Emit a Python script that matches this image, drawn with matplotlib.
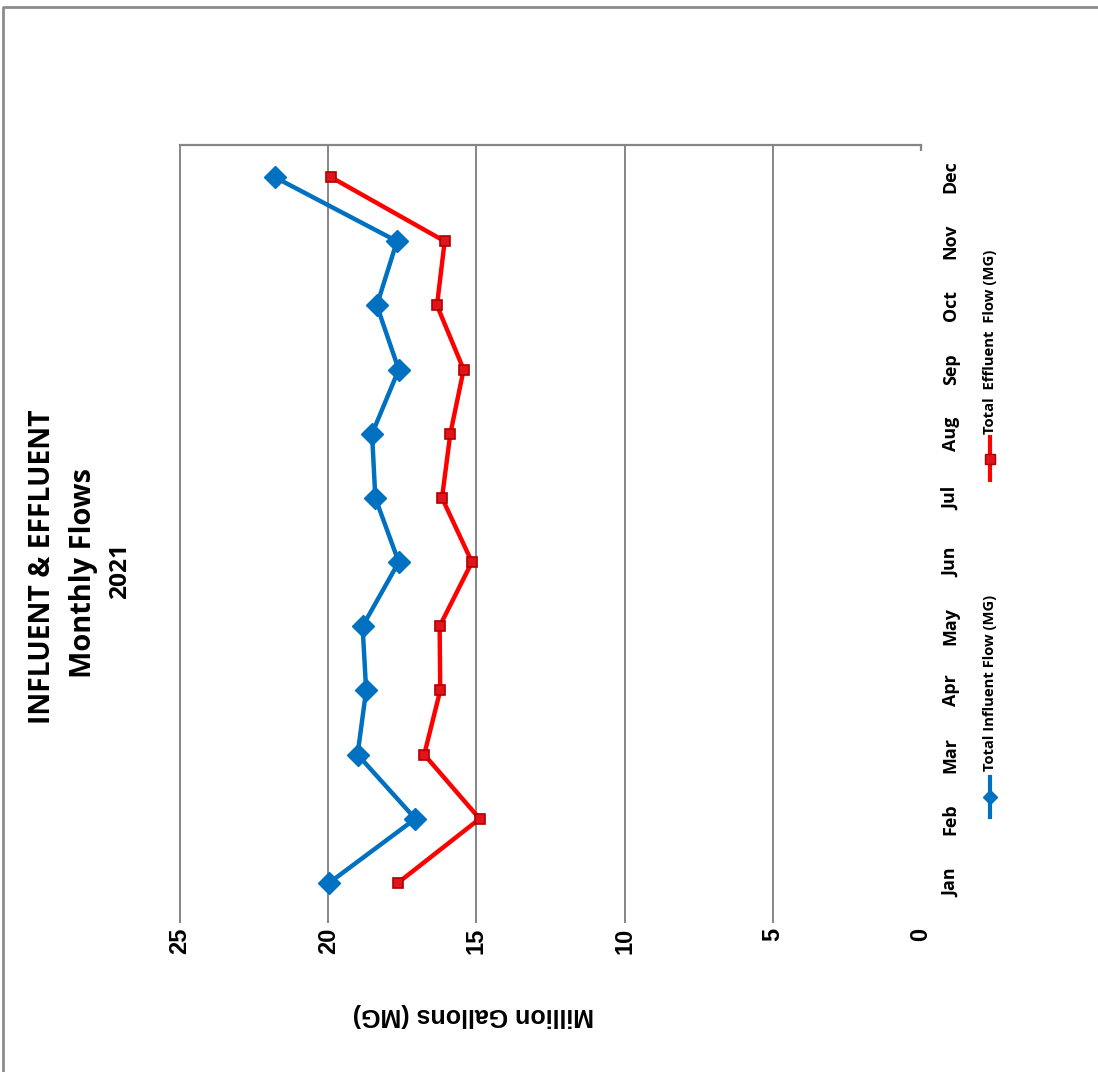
import matplotlib
matplotlib.use("Agg")
from matplotlib import pyplot as plt
from matplotlib.lines import Line2D
import numpy as np

# Data (million gallons per month)
months = ['Jan', 'Feb', 'Mar', 'Apr', 'May', 'Jun',
          'Jul', 'Aug', 'Sep', 'Oct', 'Nov', 'Dec']
influent = [19.97, 17.06, 19.01, 18.72, 18.84, 17.62,
            18.41, 18.52, 17.62, 18.36, 17.68, 21.81]
effluent = [17.65, 14.89, 16.76, 16.22, 16.24, 15.15,
            16.16, 15.88, 15.43, 16.33, 16.07, 19.91]
value_ticks = [0, 5, 10, 15, 20, 25]

blue = '#0070C0'
red = '#FF0000'
grey = '#868686'
bold_font = 'Open Sans'

W, H = 1098, 1072
fig = plt.figure(figsize=(W / 100, H / 100), dpi=100)

def fx(px):
    return px / W

def fy(py):
    return 1 - py / H

def fit_length(texts, target):
    # scale font so the (turned) text spans `target` pixels, like the original
    fig.canvas.draw()
    r = fig.canvas.get_renderer()
    bb = texts[0].get_window_extent(r)
    length = max(bb.width, bb.height)
    for t in texts:
        t.set_fontsize(t.get_fontsize() * target / length)

# The whole chart is turned a quarter turn: values run right-to-left, months bottom-to-top
ax = fig.add_axes([fx(180), fy(915), fx(921) - fx(180), fy(145) - fy(915)])
ypos = np.arange(len(months))

ax.plot(influent, ypos, color=blue, lw=3.2, marker='D', ms=11,
        mfc=blue, mec=blue, zorder=3)
ax.plot(effluent, ypos, color=red, lw=3.2, marker='s', ms=7,
        mfc='#E0141A', mec='#B00000', mew=1.2, zorder=3)

ax.set_xlim(25, 0)
ax.set_ylim(-0.5, len(months) - 0.5)

for s in ['left', 'right', 'bottom']:
    ax.spines[s].set_visible(False)
ax.spines['top'].set_color(grey)
ax.spines['top'].set_linewidth(1.6)

# vertical gridlines, running a bit past the bottom like tick marks
trans = ax.get_xaxis_transform()
ax.vlines([5, 10, 15, 20, 25], -0.01, 1, transform=trans, color=grey,
          lw=1.4, clip_on=False, zorder=1)
ax.vlines([0], 0.992, 1, transform=trans, color=grey, lw=1.6, clip_on=False)

ax.set_xticks(value_ticks)
ax.set_xticklabels([str(v) for v in value_ticks], rotation=90,
                   family='Liberation Sans', weight='bold', fontsize=17)
ax.tick_params(axis='x', length=0, pad=9)

ax.yaxis.tick_right()
ax.set_yticks(ypos)
month_labels = ax.set_yticklabels(months, rotation=90, va='center',
                                  family=bold_font, weight='bold', fontsize=12)
ax.tick_params(axis='y', length=0, pad=15)

# titles
t1 = fig.text(fx(43), fy(567), 'INFLUENT & EFFLUENT', rotation=90, ha='center',
              va='center', family=bold_font, weight='bold', fontsize=20)
t2 = fig.text(fx(84), fy(573), 'Monthly Flows', rotation=90, ha='center',
              va='center', family=bold_font, weight='bold', fontsize=20)
t3 = fig.text(fx(120), fy(571), '2021', rotation=90, ha='center',
              va='center', family=bold_font, weight='bold', fontsize=16)

fig.text(fx(473), fy(1015), 'Million Gallons (MG)', rotation=180,
         ha='center', va='center', family='Liberation Sans',
         weight='bold', fontsize=18)

# legend, drawn by hand so it can be turned with the rest
fig.add_artist(Line2D([fx(990), fx(990)], [fy(817), fy(777)], color=blue, lw=3))
fig.add_artist(Line2D([fx(990)], [fy(797)], color=blue, marker='D', ms=7))
l1 = fig.text(fx(990), fy(771), 'Total Influent Flow (MG)', rotation=90,
              ha='center', va='bottom', family=bold_font, weight='bold', fontsize=10)

fig.add_artist(Line2D([fx(990), fx(990)], [fy(480), fy(437)], color=red, lw=3))
fig.add_artist(Line2D([fx(990)], [fy(459)], color='#E0141A', marker='s',
                      ms=7, mec='#B00000'))
l2 = fig.text(fx(990), fy(434), 'Total  Effluent  Flow (MG)', rotation=90,
              ha='center', va='bottom', family=bold_font, weight='bold', fontsize=10)

# outer chart border (only top and left edges show)
fig.add_artist(Line2D([fx(3), fx(3), fx(1098)], [fy(1072), fy(7), fy(7)],
                      color='#8C8C8C', lw=2))

fit_length([t1], 315)
fit_length([t2], 210)
fit_length([t3], 56)
fit_length([l1], 177)
fit_length([l2], 185)
fit_length([month_labels[-1]] + list(month_labels[:-1]), 33)

fig.savefig('out.png', dpi=100)
